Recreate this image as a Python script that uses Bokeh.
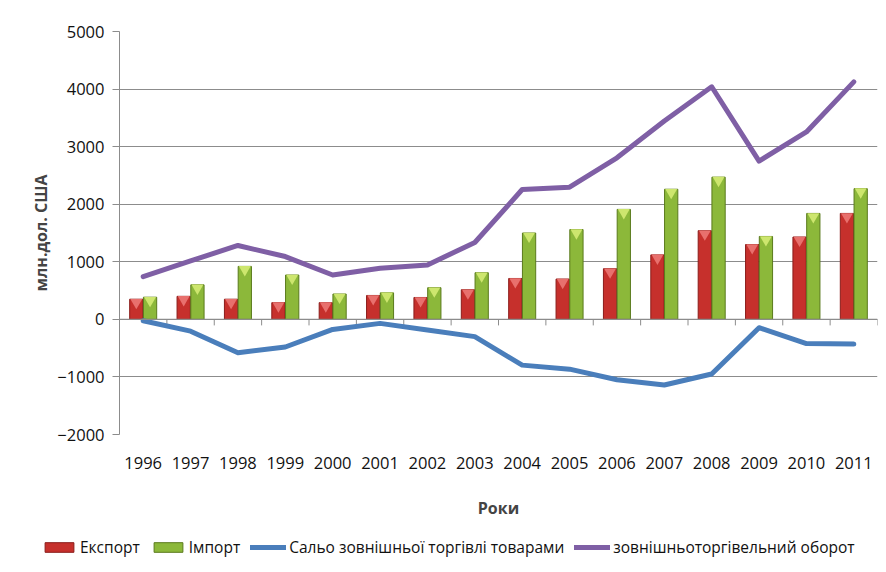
import numpy as np
from bokeh.plotting import figure
from bokeh.models import (ColumnDataSource, FixedTicker, Legend,
                          LegendItem, Range1d, Span)
from bokeh.embed import file_html
from bokeh.resources import INLINE

years = ["1996", "1997", "1998", "1999", "2000", "2001", "2002", "2003",
         "2004", "2005", "2006", "2007", "2008", "2009", "2010", "2011"]
export = [350, 400, 350, 290, 290, 415, 380, 515, 710, 700, 880, 1120, 1540, 1300, 1430, 1840]
imports = [385, 600, 920, 770, 440, 460, 550, 810, 1500, 1560, 1910, 2260, 2470, 1440, 1840, 2270]
balance = [-25, -205, -580, -480, -175, -70, -185, -300, -795, -865, -1050, -1140, -950, -145, -420, -430]
turnover = [742, 1015, 1283, 1091, 771, 887, 946, 1335, 2255, 2295, 2806, 3447, 4040, 2750, 3255, 4125]
y_ticks = [-2000, -1000, 0, 1000, 2000, 3000, 4000, 5000]
series_names = ["Експорт", "Імпорт", "Сальо зовнішньої торгівлі товарами",
                "зовнішньоторгівельний оборот"]

FONT = "Open Sans"
RED, RED_EDGE, RED_TIP = "#c6302c", "#8a1c1a", "#e8706d"
GREEN, GREEN_EDGE, GREEN_TIP = "#8cb83a", "#5a7a1c", "#cde66e"
BLUE, PURPLE = "#4a7ebb", "#7f5fa5"

idx = np.arange(len(years))
src = ColumnDataSource(dict(
    xe=idx - 0.145, xi=idx + 0.145, x=idx,
    export=export, imports=imports, balance=balance, turnover=turnover,
    export_tip=np.array(export) - 55, imports_tip=np.array(imports) - 55,
))
bounds = ColumnDataSource(dict(x=idx + 0.5, y0=np.zeros(len(idx)),
                               y1=np.full(len(idx), -105.0)))

p = figure(frame_width=758, frame_height=403, output_backend="svg", toolbar_location=None,
           x_range=Range1d(-0.5, len(years) - 0.5),
           y_range=Range1d(y_ticks[0], y_ticks[-1]),
           min_border_left=119, min_border_right=1, min_border_top=31,
           min_border_bottom=88)
p.outline_line_color = None
p.background_fill_color = "white"
p.border_fill_color = "white"

# grid
p.xgrid.visible = False
p.ygrid.ticker = FixedTicker(ticks=y_ticks)
p.ygrid.grid_line_color = "#8c8c8c"
p.ygrid.grid_line_width = 1

# y axis
p.yaxis.ticker = FixedTicker(ticks=y_ticks)
p.yaxis.axis_line_color = "#8c8c8c"
p.yaxis.major_tick_line_color = "#8c8c8c"
p.yaxis.major_tick_out = 7
p.yaxis.major_tick_in = 0
p.yaxis.minor_tick_line_color = None
p.yaxis.major_label_text_font = FONT
p.yaxis.major_label_text_font_size = "16.5px"
p.yaxis.major_label_text_color = "#111111"
p.yaxis.major_label_standoff = 8
p.yaxis.axis_label = "млн.дол. США"
p.yaxis.axis_label_text_font = FONT
p.yaxis.axis_label_text_font_style = "bold"
p.yaxis.axis_label_text_font_size = "16px"
p.yaxis.axis_label_standoff = 2

# bottom (label) axis
p.xaxis.ticker = FixedTicker(ticks=list(idx))
p.xaxis.major_label_overrides = {int(i): y for i, y in zip(idx, years)}
p.xaxis.axis_line_color = None
p.xaxis.major_tick_line_color = None
p.xaxis.minor_tick_line_color = None
p.xaxis.major_label_text_font = FONT
p.xaxis.major_label_text_font_size = "16.5px"
p.xaxis.major_label_text_color = "#111111"
p.xaxis.major_label_standoff = 16
p.xaxis.axis_label = "Роки"
p.xaxis.axis_label_text_font = FONT
p.xaxis.axis_label_text_font_style = "bold"
p.xaxis.axis_label_text_font_size = "16px"
p.xaxis.axis_label_standoff = 25

# category axis line at zero with boundary ticks
p.add_layout(Span(location=0, dimension="width", line_color="#8c8c8c", line_width=1.3))
p.segment(x0="x", y0="y0", x1="x", y1="y1", source=bounds,
          line_color="#8c8c8c", line_width=1)

# bars
p.vbar(x="xe", top="export", bottom=0, width=0.28, source=src,
       fill_color=RED, line_color=RED_EDGE, line_width=1)
p.scatter(x="xe", y="export_tip", source=src, marker="inverted_triangle",
          size=12, fill_color=RED_TIP, line_color=None)
p.vbar(x="xi", top="imports", bottom=0, width=0.28, source=src,
       fill_color=GREEN, line_color=GREEN_EDGE, line_width=1)
p.scatter(x="xi", y="imports_tip", source=src, marker="inverted_triangle",
          size=12, fill_color=GREEN_TIP, line_color=None)

# lines
p.line(x="x", y="balance", source=src, line_color=BLUE, line_width=5,
       line_join="round", line_cap="round")
p.line(x="x", y="turnover", source=src, line_color=PURPLE, line_width=5,
       line_join="round", line_cap="round")

# legend strip: a separate root so the legend can span the full chart width
lg = figure(width=884, height=46, output_backend="svg", toolbar_location=None,
            x_range=Range1d(-0.5, len(years) - 0.5), y_range=Range1d(10000, 10001),
            x_axis_type=None, y_axis_type=None, min_border=0)
lg.outline_line_color = None
lg.grid.visible = False
g1 = lg.vbar(x="xe", top="export", bottom=0, width=0.28, source=src,
             fill_color=RED, line_color=RED_EDGE)
g2 = lg.vbar(x="xi", top="imports", bottom=0, width=0.28, source=src,
             fill_color=GREEN, line_color=GREEN_EDGE)
g3 = lg.line(x="x", y="balance", source=src, line_color=BLUE, line_width=5,
             line_cap="round")
g4 = lg.line(x="x", y="turnover", source=src, line_color=PURPLE, line_width=5,
             line_cap="round")

legend = Legend(items=[LegendItem(label=n, renderers=[r])
                       for n, r in zip(series_names, [g1, g2, g3, g4])],
                orientation="horizontal", location=(41, 10))
legend.label_text_font = FONT
legend.label_text_font_size = "15.5px"
legend.label_text_color = "#111111"
legend.glyph_width = 36
legend.glyph_height = 12
legend.label_standoff = 3
legend.spacing = 10
legend.padding = 0
legend.margin = 0
legend.border_line_color = None
legend.background_fill_alpha = 0
lg.add_layout(legend, "center")

open("out.html", "w").write(file_html([p, lg], INLINE))
